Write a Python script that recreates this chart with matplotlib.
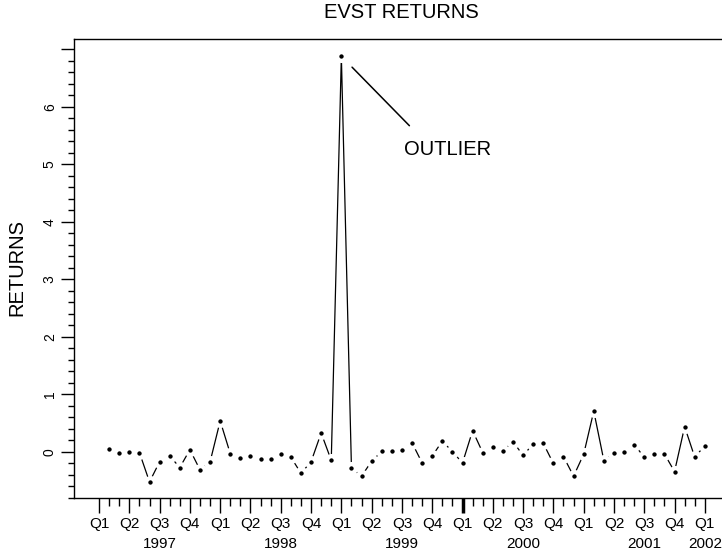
import matplotlib
matplotlib.use("Agg")
import matplotlib.pyplot as plt
import numpy as np

plt.rcParams['font.family'] = ['Liberation Sans', 'DejaVu Sans']

# monthly returns, Jan 1997 .. Dec 2001 (plotted at month end)
returns = [0.06, -0.02, 0.00, -0.01, -0.52, -0.17, -0.07, -0.27, 0.04, -0.31, -0.17, 0.54,
           -0.03, -0.10, -0.075, -0.13, -0.13, -0.03, -0.09, -0.37, -0.17, 0.33, -0.145, 6.88,
           -0.28, -0.42, -0.16, 0.01, 0.01, 0.03, 0.16, -0.19, -0.07, 0.19, 0.005, -0.19,
           0.37, -0.01, 0.085, 0.015, 0.18, -0.06, 0.14, 0.15, -0.20, -0.08, -0.42, -0.04,
           0.71, -0.15, -0.02, -0.005, 0.13, -0.09, -0.035, -0.035, -0.34, 0.44, -0.09, 0.11]
meses = np.arange(1, len(returns) + 1)  # months since Jan 1997

trimestres = ['Q1', 'Q2', 'Q3', 'Q4']
anos = ['1997', '1998', '1999', '2000', '2001', '2002']
pos_anos = [6, 18, 30, 42, 54, 60]

fig = plt.figure(figsize=(7.22, 5.54), dpi=100)
ax = fig.add_axes([74 / 722, 1 - 498 / 554, 648 / 722, 459 / 554])

ax.plot(meses, returns, color='black', lw=0.9, zorder=2)
ax.plot(meses, returns, 'o', ms=6.3, mfc='black', mec='white', mew=3.1, zorder=3)

ax.set_xlim(-2.48, 61.7)
ax.set_ylim(-0.8, 7.18)

# x axis: quarters and years
q_pos = np.arange(0, 61, 3)
ax.set_xticks(q_pos)
ax.set_xticklabels([trimestres[i % 4] for i in range(len(q_pos))], fontsize=11)
ax.set_xticks([m for m in range(1, 60) if m % 3 != 0], minor=True)
ax.tick_params(axis='x', which='major', direction='out', length=10.8, width=1, pad=3)
ax.tick_params(axis='x', which='minor', direction='out', length=5.8, width=1)
ax.xaxis.get_major_ticks()[12].tick1line.set_markeredgewidth(2.5)
for ano, p in zip(anos, pos_anos):
    ax.text(p, -0.1, ano, transform=ax.get_xaxis_transform(), ha='center', va='center',
            fontsize=11)

# y axis
ax.set_yticks(range(0, 8))
ax.set_yticklabels([str(i) for i in range(0, 7)] + [''], rotation=90, va='center', fontsize=10)
ax.set_yticks(np.arange(-0.8, 7.01, 0.2), minor=True)
ax.tick_params(axis='y', which='major', direction='out', length=9.4, width=1, pad=3)
ax.tick_params(axis='y', which='minor', direction='out', length=4.3, width=1)

ax.spines['right'].set_visible(False)
for s in ['top', 'bottom', 'left']:
    ax.spines[s].set_linewidth(1)

# outlier note
i_out = int(np.argmax(returns))
ax.annotate('', xy=(meses[i_out], returns[i_out]), xytext=(49, -50), textcoords='offset points',
            arrowprops=dict(arrowstyle='-', color='black', lw=1.1, shrinkA=0, shrinkB=11))
ax.annotate('OUTLIER', xy=(meses[i_out], returns[i_out]), xytext=(45, -67),
            textcoords='offset points', ha='left', va='center', fontsize=14.5)

fig.text(401 / 722, 1 - 12 / 554, 'EVST RETURNS', ha='center', va='center', fontsize=14.5)
fig.text(17 / 722, 1 - 268 / 554, 'RETURNS', ha='center', va='center', rotation=90, fontsize=14.5)

fig.savefig('out.png', dpi=100)
